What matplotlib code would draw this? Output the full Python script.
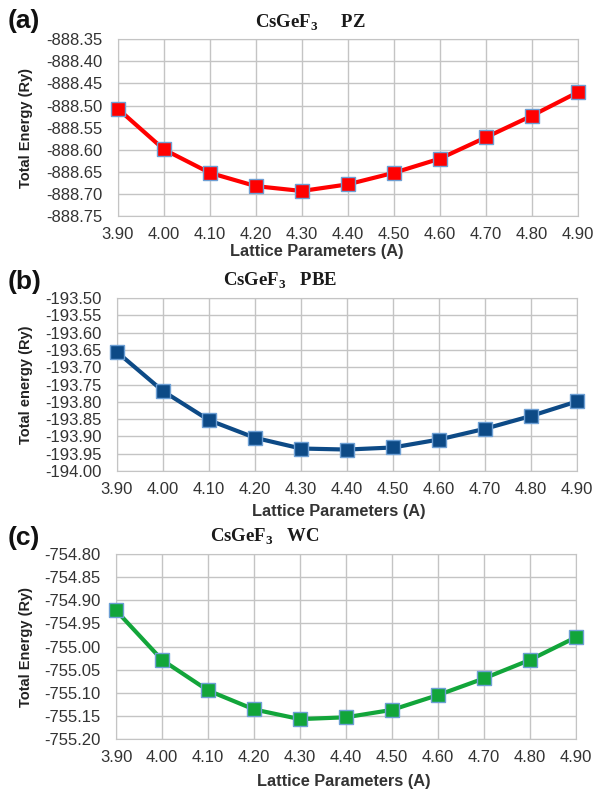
import matplotlib.pyplot as plt
from matplotlib.ticker import FormatStrFormatter

plt.rcParams['font.family'] = ['Liberation Sans', 'DejaVu Sans']
plt.rcParams['mathtext.fontset'] = 'custom'
plt.rcParams['mathtext.rm'] = 'Liberation Serif'
plt.rcParams['mathtext.bf'] = 'Liberation Serif:bold'

# lattice parameter (A)
lattice = [3.90, 4.00, 4.10, 4.20, 4.30, 4.40, 4.50, 4.60, 4.70, 4.80, 4.90]

# total energies (Ry)
e_pz = [-888.507, -888.599, -888.652, -888.682, -888.693, -888.678,
        -888.652, -888.620, -888.572, -888.523, -888.470]
e_pbe = [-193.656, -193.769, -193.853, -193.904, -193.935, -193.938,
         -193.932, -193.909, -193.878, -193.841, -193.799]
e_wc = [-754.922, -755.029, -755.095, -755.136, -755.157, -755.153,
        -755.137, -755.105, -755.069, -755.029, -754.980]

panels = ['(a)', '(b)', '(c)']
methods = ['PZ', 'PBE', 'WC']
ylabels = ['Total Energy (Ry)', 'Total energy (Ry)', 'Total Energy (Ry)']
ylims = [(-888.75, -888.35), (-194.00, -193.50), (-755.20, -754.80)]
ystep = 0.05
colors = ['#ff0000', '#0d4a86', '#12a53a']
energies = [e_pz, e_pbe, e_wc]

# axes boxes in figure fractions (left, bottom, width, height)
boxes = [(0.198, 0.727, 0.773, 0.2235),
         (0.1966, 0.4053, 0.773, 0.2184),
         (0.195, 0.0669, 0.773, 0.2336)]
# title placement (pixels from left / top) and gap between the two words
title_xy = [(255, 23), (223, 281), (210, 537)]
title_gap = ['     ', '   ', '   ']
label_y = [21, 282, 538]
xlabel_cx = [317, 339, 344]
xlabel_drop = [28, 33, 35]   # px from axes bottom to x-label top

W, H = 595, 792
fig = plt.figure(figsize=(5.95, 7.92), dpi=100)

for i in range(3):
    ax = fig.add_axes(boxes[i])
    ax.plot(lattice, energies[i], c=colors[i], lw=3.0, marker='s',
            markersize=9.5, markerfacecolor=colors[i],
            markeredgecolor='#6d9fd4', markeredgewidth=1.0, zorder=3,
            clip_on=False)

    lo, hi = ylims[i]
    ax.set_ylim(lo, hi)
    ax.set_xlim(3.9, 4.9)
    n = int(round((hi - lo) / ystep))
    ax.set_yticks([lo + k * ystep for k in range(n + 1)])
    ax.set_xticks(lattice)
    ax.yaxis.set_major_formatter(FormatStrFormatter('%.2f'))
    ax.xaxis.set_major_formatter(FormatStrFormatter('%.2f'))
    ax.grid(True, color='#c4c4c4', lw=1.0)
    ax.set_axisbelow(True)
    for s in ax.spines.values():
        s.set_color('#c4c4c4')
    ax.tick_params(axis='both', length=0, labelsize=12, colors='#333333')
    ax.tick_params(axis='x', pad=8)
    ax.tick_params(axis='y', pad=11)

    aw = boxes[i][2] * W
    ah = boxes[i][3] * H
    ax.set_ylabel(ylabels[i], fontsize=10.5, fontweight='bold',
                  color='#222222')
    ax.yaxis.set_label_coords((33 - boxes[i][0] * W) / aw, 0.5)

    ax.set_xlabel('Lattice Parameters (A)', fontsize=11.8,
                  fontweight='bold', color='#333333')
    ax.xaxis.set_label_coords((xlabel_cx[i] - boxes[i][0] * W) / aw,
                              -xlabel_drop[i] / ah)

    # title with subscript
    tx, ty = title_xy[i]
    fig.text(tx / W, 1 - ty / H,
             r'CsGeF$_\mathbf{3}$' + title_gap[i] + methods[i],
             fontsize=13.5, fontweight='bold', family='Liberation Serif',
             color='#1a1a1a', ha='left', va='center')

    # panel label
    fig.text(8 / W, 1 - label_y[i] / H, panels[i], fontsize=19,
             fontweight='bold', color='#111111', va='center')

plt.savefig('out.png', dpi=100)
